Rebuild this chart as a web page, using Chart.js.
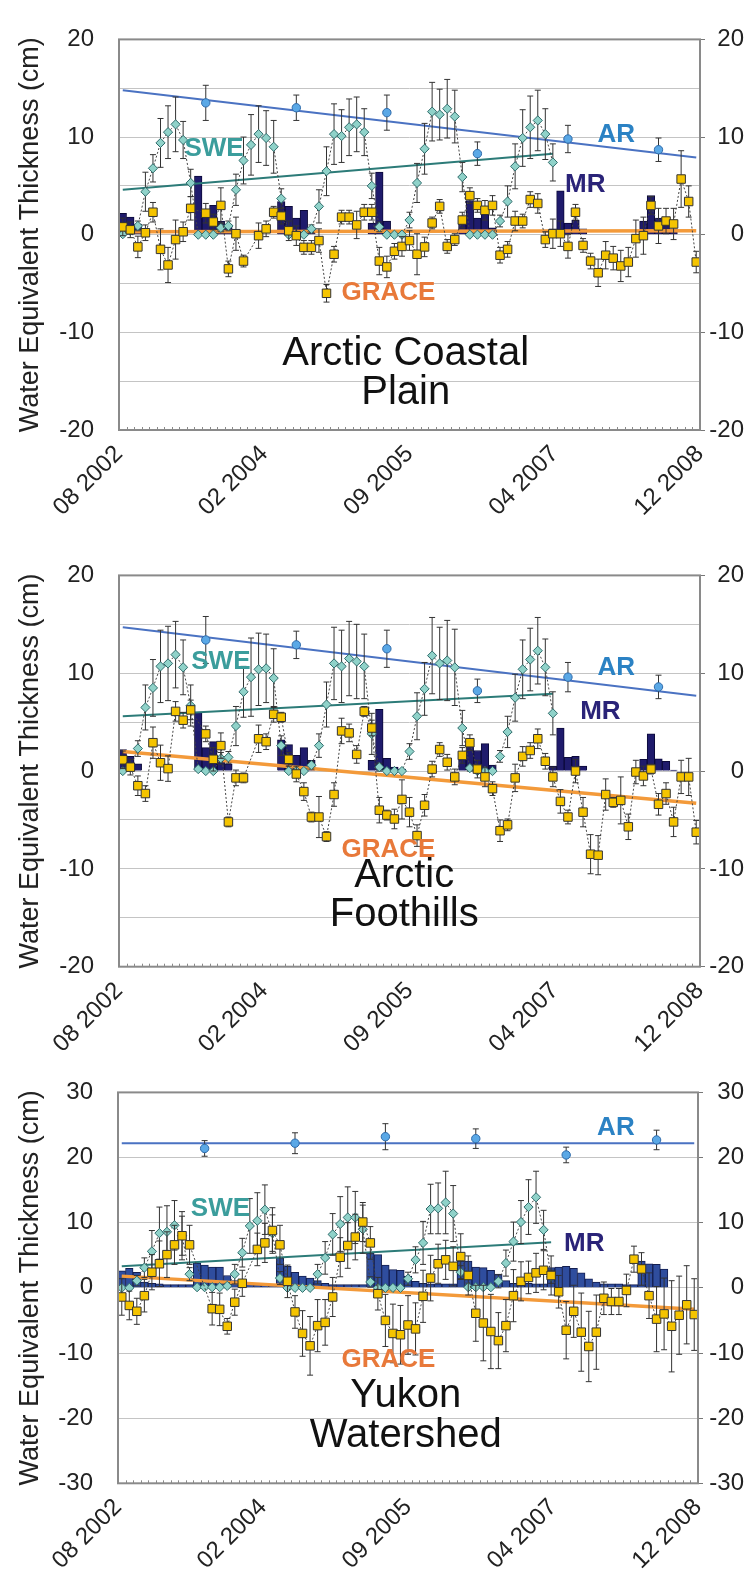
<!DOCTYPE html>
<html>
<head>
<meta charset="utf-8">
<script src="https://cdn.jsdelivr.net/npm/chart.js@4.4.0/dist/chart.umd.min.js"></script>
<style>
html, body { margin: 0; padding: 0; background: #fff; }
.panel { position: absolute; left: 0; width: 751px; }
</style>
</head>
<body>
<div class="panel" style="top:0;height:536px"><canvas id="coastal"></canvas></div>
<div class="panel" style="top:536px;height:517px"><canvas id="foothills"></canvas></div>
<div class="panel" style="top:1053px;height:517px"><canvas id="yukon"></canvas></div>
<script>
// axis labels (x is months since Aug 2002)
var xTickPos = [0, 19.25, 38.5, 57.75, 77];
var xTickLabels = ['08 2002', '02 2004', '09 2005', '04 2007', '12 2008'];
var arMonths = [11, 23, 35, 47, 59, 71];
var trendX = [0.5, 76.5];
var sweTrendX = [0.5, 57.5];
var mrMonths = [0, 1, 2, 10, 11, 12, 13, 14, 21, 22, 23, 24, 25, 33, 34, 35, 36, 37, 45, 46, 47, 48, 49, 57, 58, 59, 60, 61, 69, 70, 71, 72, 73];

// Arctic Coastal Plain
var grace1 = [0.8, 0.5, -1.25, 0.2, 2.3, -1.5, -3.1, -0.5, 0.3, 2.7,
  null, 2.2, 1.3, 3.0, -3.5, 0.1, -2.7, null, -0.1, 0.6,
  2.3, 1.9, 0.4, -0.1, -1.3, -1.3, -0.6, -6.0, -2.0, 1.8,
  1.8, 1.0, 2.3, 2.3, -2.7, -3.3, -1.7, -1.2, -0.6, -2.0,
  -1.25, 1.2, 2.9, -1.2, -0.5, 1.5, 4.0, 3.0, 2.5, 3.0,
  -2.1, -1.5, 1.4, 1.4, 3.6, 3.2, -0.5, 0.1, 0.1, -1.2,
  2.3, -1.1, -2.7, -3.9, -2.1, -2.4, -3.2, -2.8, -0.4, -0.1,
  3.0, 0.9, 1.4, 1.1, 5.7, 3.4, -2.8];
var graceErr1 = [0.9, 0.8, 1.1, 0.8, 1.0, 2.1, 1.8, 2.0, 1.0, 1.2,
  null, 1.0, 0.8, 1.8, 0.8, 1.7, 0.6, null, 1.3, 0.8,
  0.6, 0.8, 1.0, 1.0, 0.7, 0.7, 1.2, 0.9, 0.8, 0.7,
  0.7, 1.4, 0.8, 0.8, 1.4, 1.1, 0.8, 1.0, 1.0, 2.1,
  1.0, 0.6, 0.7, 0.7, 0.6, 0.8, 0.8, 0.7, 1.0, 1.0,
  0.8, 0.8, 1.0, 0.7, 0.8, 1.0, 0.8, 1.5, 1.3, 1.2,
  0.8, 0.7, 0.8, 1.4, 1.4, 1.2, 1.6, 1.5, 1.9, 1.9,
  0.9, 1.8, 1.3, 1.6, 2.9, 1.6, 1.1];
var swe1 = [0.05, 0.4, 0.9, 4.4, 6.8, 9.4, 10.5, 11.3, 9.7, 5.3,
  0, 0, 0, 0.7, 0.9, 4.6, 7.6, 9.2, 10.3, 9.9,
  9.0, 3.7, 0, 0, 0, 0.6, 2.9, 6.5, 10.3, 10.1,
  11.0, 11.3, 10.5, 5.0, 0.8, 0, 0, 0, 1.5, 5.3,
  8.8, 12.6, 12.3, 12.9, 12.1, 5.9, 0, 0, 0, 0,
  1.4, 3.4, 7.0, 9.9, 11.0, 11.7, 10.3, 7.4];
var sweErr1 = [0, 0.3, 0.5, 2.0, 1.4, 2.5, 2.7, 2.8, 1.9, 1.4,
  0, 0, 0, 0.4, 0.5, 1.6, 2.4, 3.1, 2.9, 2.8,
  2.7, 1.0, 0, 0, 0, 0.4, 1.7, 2.5, 3.1, 2.7,
  2.9, 2.8, 2.4, 1.3, 0.5, 0, 0, 0, 0.8, 2.0,
  2.6, 3.0, 2.6, 3.0, 2.7, 1.5, 0, 0, 0, 0,
  0.6, 1.6, 2.3, 2.9, 3.2, 3.1, 2.6, 1.9];
var mr1 = [2.2, 1.8, 1.1, 6.0, 2.5, 3.0, 1.4, 1.0, 3.4, 2.9, 1.7, 2.5, 0.7, 1.2, 6.4, 1.4, 0.4, 0.3,
  1.2, 3.5, 1.7, 2.4, 0.7, 0.6, 4.5, 1.2, 1.5, 0.6, 1.4, 4.0, 1.7, 1.5, 0.6];
var ar1 = [13.5, 13.0, 12.5, 8.3, 9.8, 8.7];
var arErr1 = [1.8, 1.3, 1.8, 1.2, 1.4, 1.2];
var arTrend1 = [14.8, 7.9];
var sweTrend1 = [4.6, 8.3];
var graceTrend1 = [0.3, 0.4];

// Arctic Foothills
var grace2 = [1.15, 0.4, -1.5, -2.3, 2.9, 0.85, 0.25, 6.1, 5.2, 6.25,
  null, 3.8, 1.2, 2.6, -5.2, -0.7, -0.7, null, 3.3, 3.0,
  5.8, 5.5, 1.2, -0.3, -2.1, -4.7, -4.7, -6.7, -2.4, 4.1,
  3.9, 1.7, 6.1, 4.4, -4.0, -4.5, -4.9, -2.9, -4.2, -6.6,
  -3.5, 0.2, 2.2, 0.9, -0.6, 1.6, 2.9, 0.2, -0.6, -1.8,
  -6.1, -5.5, -0.7, 1.5, 2.1, 3.3, 1.0, -0.6, -3.1, -4.7,
  0.0, -4.2, -8.5, -8.6, -2.4, -3.2, -3.0, -5.7, -0.1, -0.5,
  0.2, -3.4, -2.3, -5.2, -0.6, -0.6, -6.25];
var graceErr2 = [0.9, 0.8, 1.0, 0.8, 1.6, 1.8, 1.3, 1.0, 0.8, 1.0,
  null, 0.8, 1.2, 1.3, 0.5, 0.8, 0.5, null, 1.4, 0.8,
  0.8, 0.5, 0.7, 0.8, 0.9, 0.5, 2.1, 0.5, 1.2, 1.3,
  0.9, 0.9, 0.5, 0.8, 1.3, 0.5, 1.0, 2.0, 1.5, 1.1,
  1.1, 0.8, 0.7, 0.8, 0.8, 0.8, 0.8, 0.9, 1.0, 0.7,
  1.1, 0.6, 1.4, 1.0, 0.8, 1.0, 0.8, 1.0, 1.2, 0.7,
  1.2, 1.5, 2.0, 2.0, 1.6, 0.5, 2.4, 1.3, 1.2, 1.0,
  0.5, 1.1, 1.1, 1.5, 1.7, 1.9, 1.2];
var swe2 = [0, 0.4, 2.3, 6.5, 8.5, 10.7, 11.0, 11.9, 10.6, 6.7,
  0.2, 0, 0, 1.3, 1.4, 4.6, 8.1, 9.6, 10.4, 10.5,
  9.5, 2.6, 0, 0, 0, 0.6, 2.6, 6.8, 11.0, 10.7,
  11.5, 11.2, 10.7, 3.8, 0.4, 0, 0, 0, 2.0, 5.6,
  8.4, 11.8, 11.0, 11.3, 10.6, 4.4, 0.3, 0, 0, 0,
  1.5, 4.0, 7.5, 10.4, 11.4, 12.3, 10.6, 5.9];
var sweErr2 = [0, 0.3, 0.8, 2.3, 2.9, 3.7, 3.8, 3.4, 2.8, 2.1,
  0, 0, 0, 0.6, 0.6, 2.0, 2.6, 4.0, 3.7, 3.5,
  3.0, 1.0, 0, 0, 0, 0.4, 1.2, 2.3, 3.7, 3.7,
  3.8, 3.8, 3.3, 2.1, 0.4, 0, 0, 0, 0.8, 2.4,
  2.7, 3.9, 3.7, 4.1, 3.9, 1.8, 0.3, 0, 0, 0,
  0.6, 1.6, 2.4, 3.0, 3.2, 3.4, 2.9, 2.2];
var mr2 = [2.2, 1.5, 0.75, 6.0, 2.4, 3.0, 1.5, 0.75, 3.2, 2.7, 1.6, 2.4, 1.1, 1.1, 6.3, 1.3, 0.4, 0.2,
  1.8, 3.1, 2.1, 2.8, 0.6, 0.5, 4.4, 1.4, 1.5, 0.5, 1.2, 3.8, 1.25, 1.0, 0.1];
var ar2 = [13.4, 12.9, 12.5, 8.2, 9.6, 8.6];
var arErr2 = [2.4, 1.4, 1.9, 1.2, 1.5, 1.2];
var arTrend2 = [14.7, 7.7];
var sweTrend2 = [5.6, 7.9];
var graceTrend2 = [2.0, -3.3];

// Yukon Watershed
var grace3 = [-1.4, -2.7, -3.6, -1.2, 2.4, 3.7, 5.1, 6.6, 8.0, 6.6,
  null, null, -3.2, -3.3, -5.9, -2.2, 0.7, null, 5.9, 6.9,
  8.8, 6.6, 1.0, -3.7, -7.0, -8.9, -5.8, -5.3, -1.4, 4.7,
  6.5, 7.8, 10.1, 6.9, -0.9, -5.0, -7.0, -7.2, -5.7, -6.3,
  -1.3, 1.5, 3.7, 4.3, 3.3, 4.8, 1.9, -3.9, -5.4, -6.7,
  -8.1, -5.8, -1.2, 1.0, 1.6, 2.3, 2.7, 1.9, -0.6, -6.5,
  -3.6, -6.8, -9.0, -6.8, -1.6, -2.1, -2.1, -0.4, 4.4, 2.9,
  -1.2, -4.8, -4.0, -5.9, -4.2, -2.6, -4.1];
var graceErr3 = [2.8, 2.2, 2.0, 2.5, 2.7, 3.5, 3.5, 3.0, 3.0, 3.0,
  null, null, 2.5, 2.5, 1.2, 2.0, 2.0, null, 2.5, 3.0,
  3.5, 3.0, 2.5, 2.5, 3.5, 4.5, 4.0, 3.5, 3.0, 3.0,
  3.5, 3.5, 3.0, 2.5, 2.5, 4.0, 4.5, 4.5, 4.5, 4.0,
  4.0, 3.5, 3.0, 3.0, 3.0, 3.5, 3.0, 4.3, 5.8, 5.7,
  4.3, 4.0, 4.0, 3.0, 2.5, 3.0, 3.0, 3.0, 2.5, 4.4,
  4.0, 6.0, 5.4, 5.7, 2.5, 2.0, 2.0, 2.5, 2.0, 2.5,
  3.5, 5.0, 5.5, 7.0, 6.0, 6.0, 5.5];
var swe3 = [0, 0, 1.1, 3.1, 5.6, 8.4, 8.6, 9.6, 8.0, 2.1,
  0.1, 0.1, 0.1, 0.1, 0.3, 2.1, 5.4, 9.5, 10.3, 12.0,
  8.4, 1.5, 0, 0, 0, 0, 2.1, 4.6, 8.2, 9.8,
  10.8, 10.8, 9.0, 0.9, 0, 0, 0, 0, 1.4, 4.3,
  6.9, 12.1, 12.2, 13.1, 11.4, 2.4, 0.1, 0.1, 0.1, 0.1,
  1.0, 3.8, 7.1, 10.1, 12.4, 13.9, 8.9, 1.7];
var sweErr3 = [0, 0, 0.8, 1.5, 3.2, 4.0, 4.0, 3.8, 3.7, 1.0,
  0, 0, 0, 0, 0.3, 1.5, 2.2, 4.2, 4.3, 3.8,
  2.8, 1.0, 0, 0, 0, 0, 1.5, 2.5, 3.2, 4.2,
  4.7, 4.0, 3.7, 0.8, 0, 0, 0, 0, 1.0, 2.0,
  3.3, 3.8, 3.9, 4.8, 4.3, 1.0, 0, 0, 0, 0,
  1.0, 2.0, 3.0, 3.3, 4.2, 4.0, 3.0, 1.0];
var mr3 = [2.6, 3.0, 2.4, 0.9, 0.7, 0.6, 0.5, 0.5, 0.5, 0.5,
  3.8, 3.5, 3.2, 3.2, 1.9, 1.1, 0.8, 0.6, 0.6, 0.6, 0.5,
  4.6, 3.3, 2.4, 1.8, 1.5, 1.1, 0.7, 0.5, 0.5, 0.5, 0.5, 0.5,
  5.3, 5.1, 3.5, 2.8, 2.7, 1.8, 1.0, 0.7, 0.6, 0.6, 0.6, 0.6,
  4.1, 4.1, 3.2, 3.1, 2.7, 2.1, 1.1, 0.7, 0.7, 0.7, 0.6, 0.6,
  3.1, 3.2, 3.3, 3.0, 2.3, 1.4, 0.9, 0.6, 0.6, 0.6, 0.5, 0.5,
  4.1, 3.7, 3.6, 2.9];
var ar3 = [21.4, 22.2, 23.2, 22.9, 20.4, 22.7];
var arErr3 = [1.2, 1.6, 2.0, 1.5, 1.2, 1.5];
var arTrend3 = [22.2, 22.2];
var sweTrend3 = [3.3, 7.0];
var graceTrend3 = [1.8, -3.3];

Chart.defaults.font.family = "'Liberation Sans', Arial, sans-serif";
Chart.defaults.color = '#222';

function pts(xs, ys) {
  return ys.map(function (v, i) { return { x: xs[i], y: v }; });
}
function monthly(vals) {
  return vals.map(function (v, i) { return { x: i + 0.5, y: v }; });
}
function mid(ms) {
  return ms.map(function (m) { return m + 0.5; });
}

var errorBars = {
  id: 'errorBars',
  beforeDatasetDraw: function (chart, args) {
    var ds = chart.data.datasets[args.index];
    if (!ds.errors) return;
    var ys = chart.scales.y, ctx = chart.ctx;
    ctx.save();
    ctx.strokeStyle = '#333';
    ctx.lineWidth = 1;
    args.meta.data.forEach(function (pt, i) {
      var v = ds.data[i].y, e = ds.errors[i];
      if (v == null || !e) return;
      var top = ys.getPixelForValue(v + e), bot = ys.getPixelForValue(v - e);
      ctx.beginPath();
      ctx.moveTo(pt.x, top); ctx.lineTo(pt.x, bot);
      ctx.moveTo(pt.x - 3, top); ctx.lineTo(pt.x + 3, top);
      ctx.moveTo(pt.x - 3, bot); ctx.lineTo(pt.x + 3, bot);
      ctx.stroke();
    });
    ctx.restore();
  }
};

var frameAndText = {
  id: 'frameAndText',
  afterDraw: function (chart, args, opts) {
    var a = chart.chartArea, ctx = chart.ctx, xs = chart.scales.x, ys = chart.scales.y;
    ctx.save();
    ctx.strokeStyle = '#8a8a8a';
    ctx.lineWidth = 1;
    for (var m = 1; m < 77; m++) {
      var px = Math.round(xs.getPixelForValue(m)) + 0.5;
      ctx.beginPath();
      ctx.moveTo(px, a.bottom);
      ctx.lineTo(px, a.bottom - 3);
      ctx.stroke();
    }
    ctx.lineWidth = 2;
    ctx.strokeRect(a.left, a.top, a.right - a.left, a.bottom - a.top);
    ctx.textAlign = 'center';
    opts.labels.forEach(function (l) {
      ctx.font = 'bold 26px "Liberation Sans", Arial, sans-serif';
      ctx.fillStyle = l.color;
      ctx.textBaseline = 'middle';
      ctx.fillText(l.text, xs.getPixelForValue(l.x), ys.getPixelForValue(l.y));
    });
    ctx.font = '40px "Liberation Sans", Arial, sans-serif';
    ctx.fillStyle = '#111';
    ctx.textBaseline = 'alphabetic';
    opts.title.forEach(function (t) {
      ctx.fillText(t.text, xs.getPixelForValue(t.x), ys.getPixelForValue(t.y));
    });
    ctx.restore();
  }
};

function buildPanel(id, p) {
  var datasets = [
    {
      type: 'line', label: 'GRACE', data: monthly(p.grace), errors: p.graceErr, order: 1,
      borderColor: '#444', borderWidth: 1, borderDash: [2, 2], spanGaps: true,
      pointStyle: 'rect', pointRadius: 6, pointBackgroundColor: '#f5c400',
      pointBorderColor: '#333', pointBorderWidth: 1
    },
    {
      type: 'line', label: 'SWE', data: monthly(p.swe), errors: p.sweErr, order: 2,
      borderColor: '#444', borderWidth: 1, borderDash: [2, 2],
      pointStyle: 'rectRot', pointRadius: 4.6, pointBackgroundColor: '#8fd2c9',
      pointBorderColor: '#2f6b6b', pointBorderWidth: 1
    },
    {
      type: 'line', label: 'AR', data: pts(mid(arMonths), p.ar), errors: p.arErr, order: 3,
      showLine: false, pointStyle: 'circle', pointRadius: 4.2, pointBackgroundColor: '#5aa8e6',
      pointBorderColor: '#2e6aaa', pointBorderWidth: 1
    },
    {
      type: 'line', label: 'AR trend', data: pts(trendX, p.arTrend), order: 4,
      borderColor: '#4a72c2', borderWidth: 2, pointRadius: 0
    },
    {
      type: 'line', label: 'SWE trend', data: pts(sweTrendX, p.sweTrend), order: 4,
      borderColor: '#2c7b78', borderWidth: 2, pointRadius: 0
    },
    {
      type: 'line', label: 'GRACE trend', data: pts(trendX, p.graceTrend), order: 4,
      borderColor: '#f39a3a', borderWidth: 3.5, pointRadius: 0
    },
    {
      type: 'bar', label: 'MR', data: pts(p.mrX, p.mr), order: 5,
      backgroundColor: p.barColor, borderColor: p.barEdge, borderWidth: 1,
      barPercentage: 1, categoryPercentage: 1, grouped: false
    }
  ];

  var gridColor = function (c) { return '#c4c4c4'; };
  var label10 = function (v) { return v % 10 === 0 ? v : ''; };

  return new Chart(document.getElementById(id), {
    type: 'line',
    data: { datasets: datasets },
    plugins: [errorBars, frameAndText],
    options: {
      responsive: true,
      maintainAspectRatio: false,
      animation: false,
      layout: { padding: { top: p.padTop, right: 7, bottom: 0, left: 0 } },
      plugins: {
        legend: { display: false },
        tooltip: { enabled: false },
        frameAndText: { labels: p.labels, title: p.title }
      },
      scales: {
        x: {
          type: 'linear', min: 0, max: 77, offset: false,
          grid: { display: false, offset: false, drawTicks: false },
          border: { display: false },
          afterBuildTicks: function (s) { s.ticks = xTickPos.map(function (v) { return { value: v }; }); },
          afterFit: function (s) { s.height = p.xAxisH; },
          ticks: {
            autoSkip: false, minRotation: 45, maxRotation: 45, padding: 10,
            font: { size: 24 },
            callback: function (v, i) { return xTickLabels[i]; }
          }
        },
        y: {
          type: 'linear', position: 'left', min: p.yMin, max: p.yMax,
          grid: { color: gridColor, drawTicks: false },
          border: { display: false },
          afterFit: function (s) { s.width = p.left; },
          ticks: { stepSize: p.step, padding: 25, font: { size: 24 }, callback: label10 },
          title: {
            display: true, text: 'Water Equivalent Thickness (cm)',
            font: { size: 27 }, padding: { top: 14, bottom: 0 }
          }
        },
        y2: {
          type: 'linear', position: 'right', min: p.yMin, max: p.yMax,
          grid: {
            drawOnChartArea: false, drawTicks: true, tickLength: 5,
            color: function (c) { return c.tick && c.tick.value % 10 === 0 ? '#777' : 'rgba(0,0,0,0)'; }
          },
          border: { display: false },
          afterFit: function (s) { s.width = 744 - p.right; },
          ticks: { stepSize: p.step, crossAlign: 'far', font: { size: 24 }, callback: label10 }
        }
      }
    }
  });
}

buildPanel('coastal', {
  grace: grace1, graceErr: graceErr1, swe: swe1, sweErr: sweErr1,
  mrX: mid(mrMonths), mr: mr1, ar: ar1, arErr: arErr1,
  arTrend: arTrend1, sweTrend: sweTrend1, graceTrend: graceTrend1,
  barColor: '#1f1b6c', barEdge: '#0c0a3a',
  yMin: -20, yMax: 20, step: 5,
  padTop: 24.5, xAxisH: 106, left: 119, right: 700,
  labels: [
    { text: 'SWE', x: 12.6, y: 8.8, color: '#3b9d9c' },
    { text: 'AR', x: 65.9, y: 10.2, color: '#2b82c4' },
    { text: 'MR', x: 61.8, y: 5.1, color: '#2a2378' },
    { text: 'GRACE', x: 35.7, y: -6.0, color: '#e8793a' }
  ],
  title: [{ text: 'Arctic Coastal', x: 38.0, y: -13.3 }, { text: 'Plain', x: 38.0, y: -17.3 }]
});

buildPanel('foothills', {
  grace: grace2, graceErr: graceErr2, swe: swe2, sweErr: sweErr2,
  mrX: mid(mrMonths), mr: mr2, ar: ar2, arErr: arErr2,
  arTrend: arTrend2, sweTrend: sweTrend2, graceTrend: graceTrend2,
  barColor: '#1f1b6c', barEdge: '#0c0a3a',
  yMin: -20, yMax: 20, step: 5,
  padTop: 24.7, xAxisH: 86.3, left: 119, right: 700,
  labels: [
    { text: 'SWE', x: 13.5, y: 11.2, color: '#3b9d9c' },
    { text: 'AR', x: 65.9, y: 10.6, color: '#2b82c4' },
    { text: 'MR', x: 63.8, y: 6.1, color: '#2a2378' },
    { text: 'GRACE', x: 35.7, y: -8.1, color: '#e8793a' }
  ],
  title: [{ text: 'Arctic', x: 37.8, y: -11.9 }, { text: 'Foothills', x: 37.8, y: -15.8 }]
});

buildPanel('yukon', {
  grace: grace3, graceErr: graceErr3, swe: swe3, sweErr: sweErr3,
  mrX: mid(mr3.map(function (v, i) { return i; })), mr: mr3, ar: ar3, arErr: arErr3,
  arTrend: arTrend3, sweTrend: sweTrend3, graceTrend: graceTrend3,
  barColor: '#2f4d9e', barEdge: '#141f50',
  yMin: -30, yMax: 30, step: 10,
  padTop: 24.3, xAxisH: 86.7, left: 118, right: 698,
  labels: [
    { text: 'SWE', x: 13.6, y: 12.1, color: '#3b9d9c' },
    { text: 'AR', x: 66.1, y: 24.5, color: '#2b82c4' },
    { text: 'MR', x: 61.9, y: 6.8, color: '#2a2378' },
    { text: 'GRACE', x: 35.9, y: -11.1, color: '#e8793a' }
  ],
  title: [{ text: 'Yukon', x: 38.2, y: -18.3 }, { text: 'Watershed', x: 38.2, y: -24.5 }]
});
</script>
</body>
</html>
